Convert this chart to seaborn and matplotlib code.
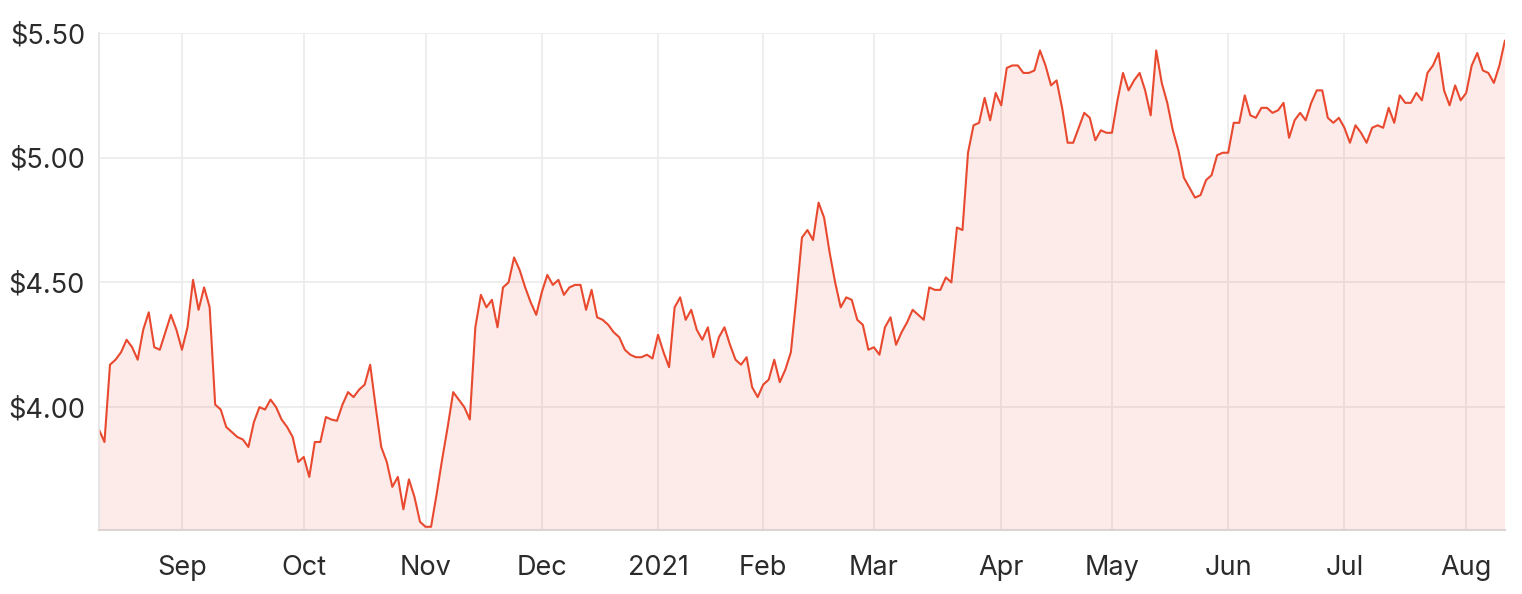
import numpy as np
import pandas as pd
import matplotlib
matplotlib.use("Agg")
import matplotlib.pyplot as plt
import seaborn as sns

# closing prices, one list per month (trading days only)
aug_2020 = [3.91, 3.86, 4.17, 4.19, 4.22, 4.27, 4.24, 4.19, 4.31, 4.38, 4.24, 4.23, 4.30, 4.37, 4.31]
sep_2020 = [4.23, 4.32, 4.51, 4.39, 4.48, 4.40, 4.01, 3.99, 3.92, 3.90, 3.88, 3.87, 3.84, 3.94, 4.00,
            3.99, 4.03, 4.00, 3.95, 3.92, 3.88, 3.78]
oct_2020 = [3.80, 3.72, 3.86, 3.86, 3.96, 3.95, 3.945, 4.01, 4.06, 4.04, 4.07, 4.09, 4.17, 4.00, 3.84,
            3.78, 3.68, 3.72, 3.59, 3.71, 3.64, 3.54]
nov_2020 = [3.52, 3.52, 3.65, 3.79, 3.92, 4.06, 4.03, 4.00, 3.95, 4.32, 4.45, 4.40, 4.43, 4.32, 4.48,
            4.50, 4.60, 4.55, 4.48, 4.42, 4.37]
dec_2020 = [4.46, 4.53, 4.49, 4.51, 4.45, 4.48, 4.49, 4.49, 4.39, 4.47, 4.36, 4.35, 4.33, 4.30, 4.28,
            4.23, 4.21, 4.20, 4.20, 4.21, 4.195]
jan_2021 = [4.29, 4.22, 4.16, 4.40, 4.44, 4.35, 4.39, 4.31, 4.27, 4.32, 4.20, 4.28, 4.32, 4.25, 4.19,
            4.17, 4.20, 4.08, 4.04]
feb_2021 = [4.09, 4.11, 4.19, 4.10, 4.15, 4.22, 4.44, 4.68, 4.71, 4.67, 4.82, 4.76, 4.62, 4.50, 4.40,
            4.44, 4.43, 4.35, 4.33, 4.23]
mar_2021 = [4.24, 4.21, 4.32, 4.36, 4.25, 4.30, 4.34, 4.39, 4.37, 4.35, 4.48, 4.47, 4.47, 4.52, 4.50,
            4.72, 4.71, 5.02, 5.13, 5.14, 5.24, 5.15, 5.26]
apr_2021 = [5.21, 5.36, 5.37, 5.37, 5.34, 5.34, 5.35, 5.43, 5.37, 5.29, 5.31, 5.20, 5.06, 5.06, 5.12,
            5.18, 5.16, 5.07, 5.11, 5.10]
may_2021 = [5.10, 5.23, 5.34, 5.27, 5.31, 5.34, 5.27, 5.17, 5.43, 5.30, 5.22, 5.11, 5.03, 4.92, 4.88,
            4.84, 4.85, 4.91, 4.93, 5.01, 5.02]
jun_2021 = [5.02, 5.14, 5.14, 5.25, 5.17, 5.16, 5.20, 5.20, 5.18, 5.19, 5.22, 5.08, 5.15, 5.18, 5.15,
            5.22, 5.27, 5.27, 5.16, 5.14, 5.16]
jul_2021 = [5.12, 5.06, 5.13, 5.10, 5.06, 5.12, 5.13, 5.12, 5.20, 5.14, 5.25, 5.22, 5.22, 5.26, 5.23,
            5.34, 5.37, 5.42, 5.27, 5.21, 5.29, 5.23]
aug_2021 = [5.26, 5.37, 5.42, 5.35, 5.34, 5.30, 5.37, 5.47]

month_blocks = [aug_2020, sep_2020, oct_2020, nov_2020, dec_2020, jan_2021, feb_2021,
                mar_2021, apr_2021, may_2021, jun_2021, jul_2021, aug_2021]
month_labels = ["", "Sep", "Oct", "Nov", "Dec", "2021", "Feb", "Mar", "Apr", "May", "Jun", "Jul", "Aug"]
y_ticks = [4.00, 4.50, 5.00, 5.50]

# build one frame, x is the trading-day position
rows = []
for m, block in enumerate(month_blocks):
    for v in block:
        rows.append({"month": m, "price": v})
df = pd.DataFrame(rows)
df["pos"] = np.arange(len(df))
tick_pos = df.groupby("month")["pos"].min().iloc[1:].tolist()

LINE = "#e8492f"

sns.set_style("white")
plt.rcParams["font.family"] = ["Inter", "DejaVu Sans"]

fig = plt.figure(figsize=(15.22, 5.94), dpi=100)
ax = fig.add_axes([0.065, 0.1077, 0.9238, 0.8367])

sns.lineplot(data=df, x="pos", y="price", color=LINE, linewidth=1.5, ax=ax)
ax.fill_between(df["pos"], df["price"], 3.0, color=LINE, alpha=0.11, linewidth=0)

ax.set_xlim(0, df["pos"].max())
ax.set_ylim(3.507, 5.50)
ax.set_xticks(tick_pos)
ax.set_xticklabels(month_labels[1:])
ax.set_yticks(y_ticks)
ax.set_yticklabels([f"${v:.2f}" for v in y_ticks])
ax.set_xlabel("")
ax.set_ylabel("")

ax.grid(True, color="#ebebeb", linewidth=1.2)
ax.set_axisbelow(True)
ax.tick_params(axis="both", length=0, labelsize=19.5, colors="#2b2b2b")
ax.tick_params(axis="x", pad=18)
ax.tick_params(axis="y", pad=10)

for side in ["top", "right"]:
    ax.spines[side].set_visible(False)
ax.spines["left"].set_color("#e3e3e3")
ax.spines["bottom"].set_color("#dcd3d3")
ax.spines["left"].set_linewidth(1.2)
ax.spines["bottom"].set_linewidth(1.5)

fig.savefig("out.png", dpi=100)
